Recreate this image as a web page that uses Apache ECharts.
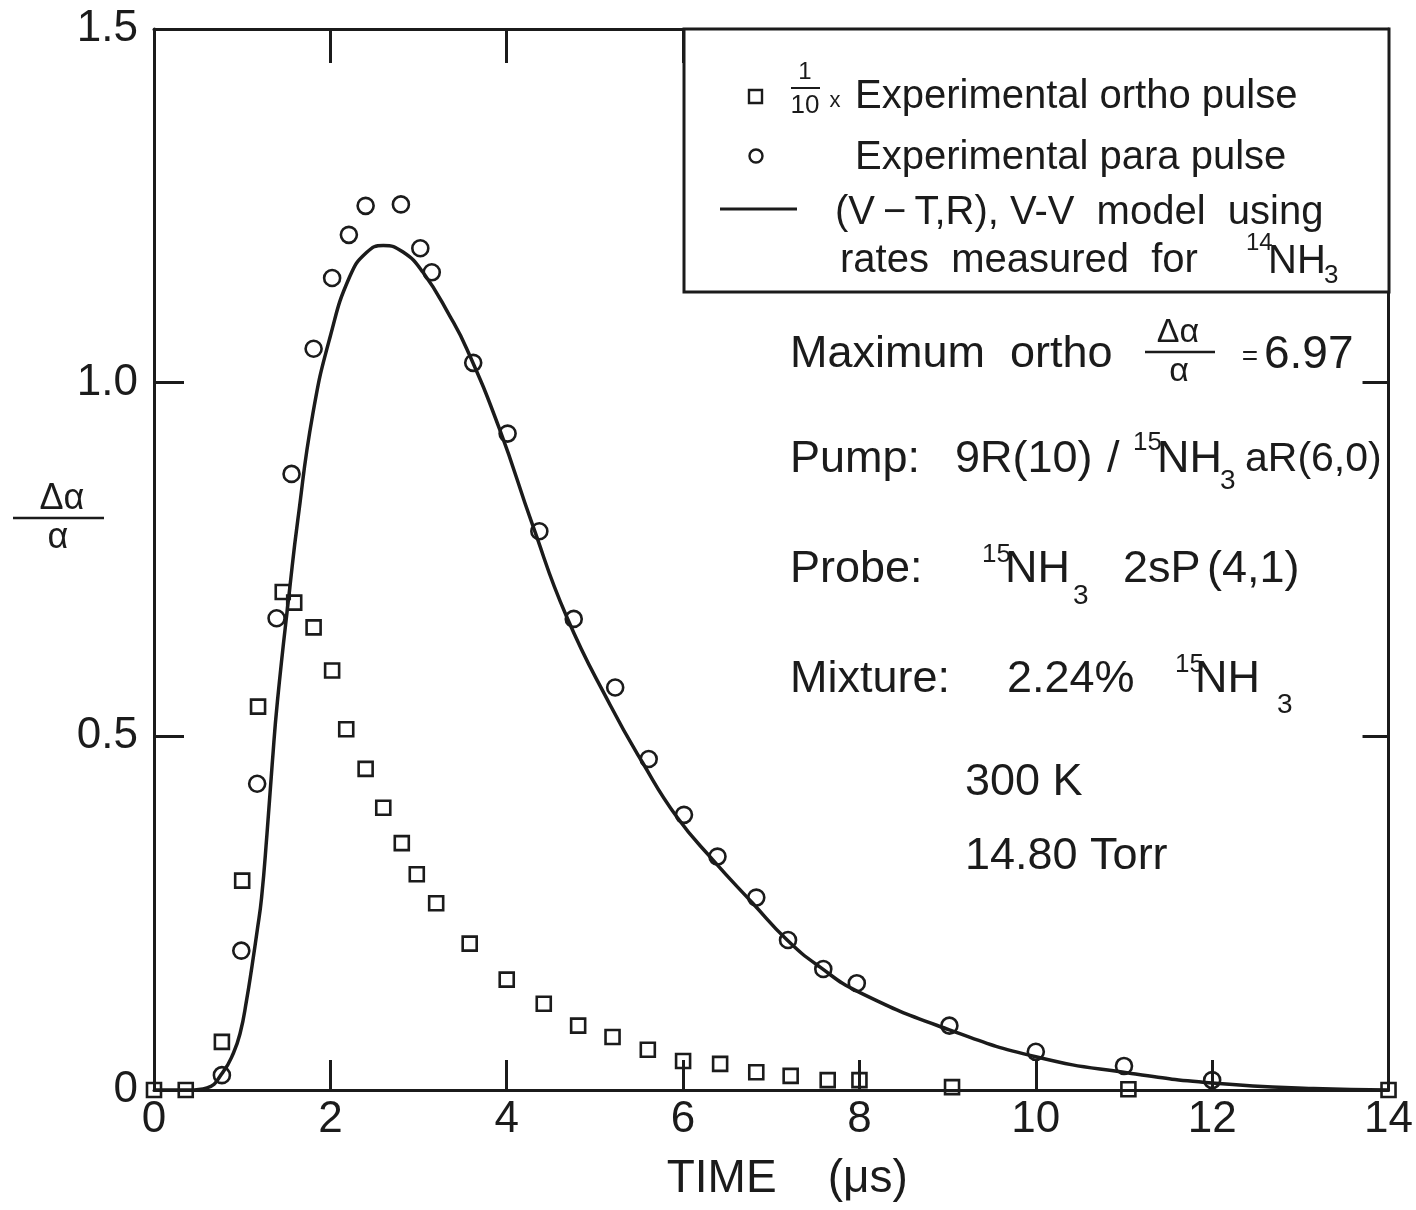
<!DOCTYPE html>
<html><head><meta charset="utf-8">
<script src="https://cdn.jsdelivr.net/npm/echarts@6/dist/echarts.min.js"></script>
<style>html,body{margin:0;padding:0;background:#fff}#c{width:1416px;height:1210px}</style>
</head><body><div id="c"></div>
<script>
const xTickLabels = ['0', '2', '4', '6', '8', '10', '12', '14'];
const yTickLabels = ['0', '0.5', '1.0', '1.5'];

// 1/10 x experimental ortho pulse (squares)
const orthoTime  = [0, 0.36, 0.77, 1.0, 1.18, 1.46, 1.59, 1.81, 2.02, 2.18, 2.40, 2.60, 2.81, 2.98, 3.20, 3.58, 4.0, 4.42, 4.81, 5.2, 5.6, 6.0, 6.42, 6.83, 7.22, 7.64, 8.0, 9.05, 11.05, 14];
const orthoValue = [0, 0, 0.068, 0.296, 0.542, 0.704, 0.689, 0.654, 0.593, 0.510, 0.454, 0.399, 0.349, 0.305, 0.264, 0.207, 0.156, 0.122, 0.091, 0.075, 0.057, 0.041, 0.037, 0.025, 0.020, 0.014, 0.014, 0.004, 0.001, 0];

// experimental para pulse (circles)
const paraTime  = [0.77, 0.99, 1.17, 1.39, 1.56, 1.81, 2.02, 2.21, 2.40, 2.80, 3.02, 3.15, 3.62, 4.01, 4.37, 4.76, 5.23, 5.61, 6.01, 6.39, 6.83, 7.19, 7.59, 7.97, 9.02, 10.0, 11.0, 12.0];
const paraValue = [0.021, 0.197, 0.433, 0.667, 0.871, 1.048, 1.148, 1.209, 1.250, 1.252, 1.190, 1.156, 1.028, 0.928, 0.790, 0.666, 0.569, 0.468, 0.389, 0.330, 0.272, 0.212, 0.171, 0.151, 0.091, 0.054, 0.034, 0.014];

// (V-T,R), V-V model curve
const modelTime  = [0, 0.4, 0.6, 0.78, 0.9, 0.98, 1.05, 1.11, 1.17, 1.22, 1.28, 1.34, 1.40, 1.54, 1.63, 1.80, 2.0, 2.22, 2.41, 2.60, 2.82, 3.05, 3.36, 3.55, 3.92, 4.29, 4.68, 5.17, 5.54, 5.93, 6.34, 6.79, 7.18, 7.55, 8.0, 9.02, 10.0, 11.05, 12.0, 13.15, 14];
const modelValue = [0, 0, 0.003, 0.025, 0.052, 0.082, 0.127, 0.174, 0.225, 0.272, 0.36, 0.46, 0.55, 0.71, 0.805, 0.955, 1.066, 1.150, 1.184, 1.194, 1.185, 1.156, 1.093, 1.047, 0.934, 0.80, 0.669, 0.545, 0.463, 0.386, 0.325, 0.264, 0.212, 0.174, 0.138, 0.085, 0.047, 0.024, 0.010, 0.002, 0];

const INK = '#1b1b1b';
const FONT = '"Liberation Sans", Arial, sans-serif';
const zip = (a, b) => a.map((v, i) => [v, b[i]]);

function txt(text, x, y, size, align) {
  align = align || 'left';
  return {
    type: 'text', x: x, y: y, z: 120,
    style: {
      text: text, fill: INK, font: size + 'px ' + FONT,
      align: align, verticalAlign: 'middle',
      textAlign: align, textVerticalAlign: 'middle'
    }
  };
}
function seg(x1, y1, x2, y2, w) {
  return { type: 'line', z: 120, shape: { x1: x1, y1: y1, x2: x2, y2: y2 }, style: { stroke: INK, lineWidth: w || 3 } };
}

const graphics = [
  // legend box
  { type: 'rect', z: 100, shape: { x: 684, y: 29, width: 705, height: 263 }, style: { fill: '#fff', stroke: INK, lineWidth: 3 } },
  { type: 'rect', z: 120, shape: { x: 749, y: 90, width: 13, height: 13 }, style: { fill: 'none', stroke: INK, lineWidth: 2.4 } },
  { type: 'circle', z: 120, shape: { cx: 756, cy: 156, r: 6.5 }, style: { fill: 'none', stroke: INK, lineWidth: 2.4 } },
  seg(720, 209, 797, 209, 3),
  txt('1', 805, 72, 24, 'center'),
  seg(791, 88, 820, 88, 2),
  txt('10', 805, 106, 26, 'center'),
  txt('x', 835, 101, 22, 'center'),
  txt('Experimental ortho pulse', 855, 97, 40),
  txt('Experimental para pulse', 855, 158, 40),
  txt('(V\u2009\u2212\u2009T,R), V-V  model  using', 835, 213, 40),
  txt('rates  measured  for', 840, 261, 40),
  txt('14', 1246, 243, 24),
  txt('NH', 1268, 262, 40),
  txt('3', 1324, 276, 26),

  // y axis title fraction
  txt('\u0394\u03b1', 62, 499, 36, 'center'),
  seg(13, 518, 104, 518, 2.5),
  txt('\u03b1', 58, 538, 36, 'center'),

  // annotations
  txt('Maximum  ortho', 790, 355, 45),
  txt('\u0394\u03b1', 1178, 333, 34, 'center'),
  seg(1145, 352, 1215, 352, 2.5),
  txt('\u03b1', 1179, 372, 34, 'center'),
  txt('=', 1250, 357, 28, 'center'),
  txt('6.97', 1264, 355, 46),

  txt('Pump:', 790, 460, 45),
  txt('9R(10)', 955, 460, 45),
  txt('/', 1107, 460, 45),
  txt('15', 1133, 443, 26),
  txt('NH', 1157, 460, 45),
  txt('3', 1220, 481, 28),
  txt('aR(6,0)', 1245, 460, 41),

  txt('Probe:', 790, 570, 45),
  txt('15', 982, 555, 26),
  txt('NH', 1005, 570, 45),
  txt('3', 1073, 596, 28),
  txt('2sP', 1123, 570, 45),
  txt('(4,1)', 1207, 570, 45),

  txt('Mixture:', 790, 680, 45),
  txt('2.24%', 1007, 680, 45),
  txt('15', 1175, 665, 26),
  txt('NH', 1195, 680, 45),
  txt('3', 1277, 705, 28),

  txt('300 K', 965, 783, 45),
  txt('14.80 Torr', 965, 857, 45)
];

const axisLine = { show: true, onZero: false, lineStyle: { color: INK, width: 3 } };
const chart = echarts.init(document.getElementById('c'), null, { renderer: 'canvas' });
chart.setOption({
  animation: false,
  backgroundColor: '#fff',
  grid: { left: 154, right: 27, top: 29, bottom: 120, containLabel: false },
  xAxis: [
    {
      type: 'value', min: 0, max: 14, interval: 2, position: 'bottom',
      axisLine: axisLine,
      axisTick: { show: true, inside: true, length: 30, lineStyle: { color: INK, width: 3 } },
      splitLine: { show: false },
      axisLabel: { margin: 8, fontSize: 44, color: INK, fontFamily: FONT,
        formatter: v => xTickLabels[Math.round(v / 2)] },
      name: 'TIME    (\u03bcs)', nameLocation: 'middle', nameGap: 66,
      nameTextStyle: { fontSize: 46, color: INK, fontFamily: FONT, padding: [0, 0, 0, 32] }
    },
    {
      type: 'value', min: 0, max: 14, interval: 2, position: 'top',
      axisLine: axisLine,
      axisTick: { show: true, inside: true, length: 34, lineStyle: { color: INK, width: 3 } },
      splitLine: { show: false }, axisLabel: { show: false }
    }
  ],
  yAxis: [
    {
      type: 'value', min: 0, max: 1.5, interval: 0.5, position: 'left',
      axisLine: axisLine,
      axisTick: { show: true, inside: true, length: 30, lineStyle: { color: INK, width: 3 } },
      splitLine: { show: false },
      axisLabel: { margin: 16, fontSize: 44, color: INK, fontFamily: FONT,
        formatter: v => yTickLabels[Math.round(v / 0.5)] }
    },
    {
      type: 'value', min: 0, max: 1.5, interval: 0.5, position: 'right',
      axisLine: axisLine,
      axisTick: { show: true, inside: true, length: 26, lineStyle: { color: INK, width: 3 } },
      splitLine: { show: false }, axisLabel: { show: false }
    }
  ],
  series: [
    {
      name: 'model', type: 'line', data: zip(modelTime, modelValue),
      showSymbol: false, smooth: 0.5,
      lineStyle: { color: INK, width: 3.5 }, z: 3
    },
    {
      name: 'ortho', type: 'scatter', data: zip(orthoTime, orthoValue),
      symbol: 'rect', symbolSize: 14,
      itemStyle: { color: 'rgba(255,255,255,0)', borderColor: INK, borderWidth: 2.6, opacity: 1 }, z: 4
    },
    {
      name: 'para', type: 'scatter', data: zip(paraTime, paraValue),
      symbol: 'circle', symbolSize: 16,
      itemStyle: { color: 'rgba(255,255,255,0)', borderColor: INK, borderWidth: 2.6, opacity: 1 }, z: 4
    }
  ],
  graphic: graphics
});
</script>
</body></html>
